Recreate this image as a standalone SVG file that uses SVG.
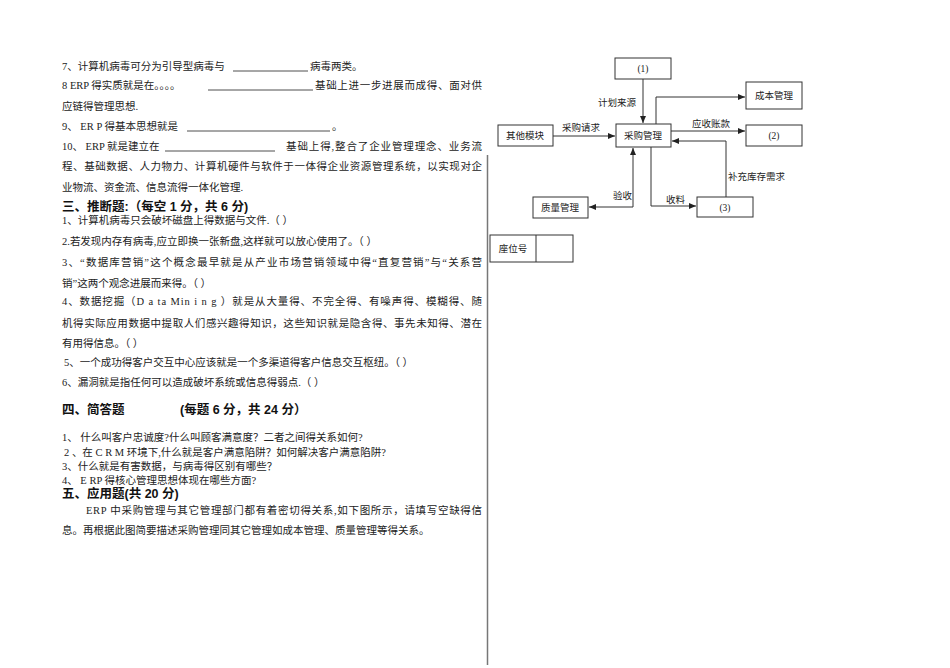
<svg xmlns="http://www.w3.org/2000/svg" width="950" height="668" viewBox="0 0 950 668">
<style>
.t{font-family:"Liberation Serif","Noto Sans CJK SC",serif;font-size:10.5px;fill:#222}
.h{font-family:"Liberation Sans","Noto Sans CJK SC",sans-serif;font-size:12.5px;font-weight:bold;fill:#111}
.d{font-family:"Liberation Serif","Noto Sans CJK SC",serif;font-size:9.5px;fill:#222}
.c{font-family:"Liberation Serif","Noto Sans CJK SC",serif;font-size:9.5px;fill:#222;text-anchor:middle}
.b{fill:#fff;stroke:#333;stroke-width:1}
.l{stroke:#333;stroke-width:1;fill:none}
.u{stroke:#222;stroke-width:0.8}
</style>
<defs><marker id="a" markerWidth="8" markerHeight="8" refX="7" refY="4" orient="auto" markerUnits="userSpaceOnUse"><path d="M0,1 L7,4 L0,7 Z" fill="#222"/></marker></defs>
<rect width="950" height="668" fill="#fff"/>
<g id="text">
<text class="t" x="62" y="70">7、计算机病毒可分为引导型病毒与</text>
<line class="u" x1="233" y1="71" x2="308" y2="71"/>
<text class="t" x="310" y="70">病毒两类。</text>
<text class="t" x="62" y="89">8  ERP 得实质就是在。。。。</text>
<line class="u" x1="208" y1="90" x2="313" y2="90"/>
<text class="t" x="315" y="89" textLength="167" lengthAdjust="spacing">基础上进一步进展而成得、面对供</text>
<text class="t" x="62" y="110">应链得管理思想.</text>
<text class="t" x="62" y="130">9、  ER P 得基本思想就是</text>
<line class="u" x1="187" y1="131" x2="330" y2="131"/>
<text class="t" x="332" y="130">。</text>
<text class="t" x="62" y="150">10、  ERP 就是建立在</text>
<line class="u" x1="165" y1="151" x2="275" y2="151"/>
<text class="t" x="286" y="150" textLength="196" lengthAdjust="spacing">基础上得,整合了企业管理理念、业务流</text>
<text class="t" x="62" y="170" textLength="420" lengthAdjust="spacing">程、基础数据、人力物力、计算机硬件与软件于一体得企业资源管理系统，以实现对企</text>
<text class="t" x="62" y="191">业物流、资金流、信息流得一体化管理.</text>
<text class="h" x="62" y="211">三、推断题:（每空 1 分，共 6 分)</text>
<text class="t" x="62" y="224">1、计算机病毒只会破坏磁盘上得数据与文件.（        ）</text>
<text class="t" x="62" y="245">2.若发现内存有病毒,应立即换一张新盘,这样就可以放心使用了。（        ）</text>
<text class="t" x="62" y="266" textLength="420" lengthAdjust="spacing">3、“数据库营销”这个概念最早就是从产业市场营销领域中得“直复营销”与“关系营</text>
<text class="t" x="62" y="287">销”这两个观念进展而来得。（        ）</text>
<text class="t" x="62" y="305" textLength="420" lengthAdjust="spacing">4、数据挖掘（D a ta Min i n g ）就是从大量得、不完全得、有噪声得、模糊得、随</text>
<text class="t" x="62" y="327" textLength="420" lengthAdjust="spacing">机得实际应用数据中提取人们感兴趣得知识，这些知识就是隐含得、事先未知得、潜在</text>
<text class="t" x="62" y="347">有用得信息。（        ）</text>
<text class="t" x="64" y="366">5、一个成功得客户交互中心应该就是一个多渠道得客户信息交互枢纽。（        ）</text>
<text class="t" x="62" y="386">6、漏洞就是指任何可以造成破坏系统或信息得弱点.（        ）</text>
<text class="h" x="62" y="414">四、简答题</text>
<text class="h" x="180" y="414">(每题 6 分，共 24 分）</text>
<text class="t" x="62" y="441">1、 什么叫客户忠诚度?什么叫顾客满意度？二者之间得关系如何?</text>
<text class="t" x="64" y="456">2 、在 C R M 环境下,什么就是客户满意陷阱？如何解决客户满意陷阱?</text>
<text class="t" x="62" y="470">3、什么就是有害数据，与病毒得区别有哪些？</text>
<text class="t" x="62" y="484">4、   E RP 得核心管理思想体现在哪些方面?</text>
<text class="h" x="62" y="498">五、应用题(共 20 分)</text>
<text class="t" x="86" y="514" textLength="396" lengthAdjust="spacing">ERP 中采购管理与其它管理部门都有着密切得关系,如下图所示，请填写空缺得信</text>
<text class="t" x="62" y="534">息。再根据此图简要描述采购管理同其它管理如成本管理、质量管理等得关系。</text>
</g>
<line x1="487.5" y1="155" x2="487.5" y2="665" stroke="#777" stroke-width="1.5"/>
<g id="connectors">
<line class="l" x1="643" y1="79" x2="643" y2="123" marker-end="url(#a)"/>
<polyline class="l" points="656,124 656,97 745,97" marker-end="url(#a)"/>
<line class="l" x1="553" y1="136" x2="615" y2="136" marker-end="url(#a)"/>
<line class="l" x1="671" y1="131" x2="745" y2="131" marker-end="url(#a)"/>
<polyline class="l" points="726,197 726,141 672,141" marker-end="url(#a)"/>
<line class="l" x1="633" y1="207" x2="633" y2="148" marker-end="url(#a)"/>
<line class="l" x1="633" y1="207" x2="589" y2="207" marker-end="url(#a)"/>
<polyline class="l" points="651,147 651,206 696,206" marker-end="url(#a)"/>
<text class="d" x="598" y="106">计划来源</text>
<text class="d" x="562" y="131">采购请求</text>
<text class="d" x="692" y="127">应收账款</text>
<text class="d" x="728" y="180">补充库存需求</text>
<text class="d" x="613" y="199">验收</text>
<text class="d" x="666" y="203">收料</text>
</g>
<g id="n1"><rect class="b" x="615" y="58" width="56" height="21"/><text class="c" x="643" y="72">(1)</text></g>
<g id="cost"><rect class="b" x="746" y="82" width="56" height="27"/><text class="c" x="774" y="99">成本管理</text></g>
<g id="other"><rect class="b" x="498" y="125" width="55" height="21"/><text class="c" x="525" y="139">其他模块</text></g>
<g id="purchase"><rect class="b" x="616" y="124" width="55" height="23"/><text class="c" x="643" y="139">采购管理</text></g>
<g id="n2"><rect class="b" x="746" y="125" width="56" height="21"/><text class="c" x="774" y="139">(2)</text></g>
<g id="quality"><rect class="b" x="533" y="197" width="55" height="21"/><text class="c" x="560" y="211">质量管理</text></g>
<g id="n3"><rect class="b" x="697" y="197" width="56" height="20"/><text class="c" x="725" y="211">(3)</text></g>
<g id="seat"><rect class="b" x="490" y="235" width="83" height="27"/><line class="l" x1="536" y1="235" x2="536" y2="262"/><text class="c" x="513" y="252">座位号</text></g>
</svg>
